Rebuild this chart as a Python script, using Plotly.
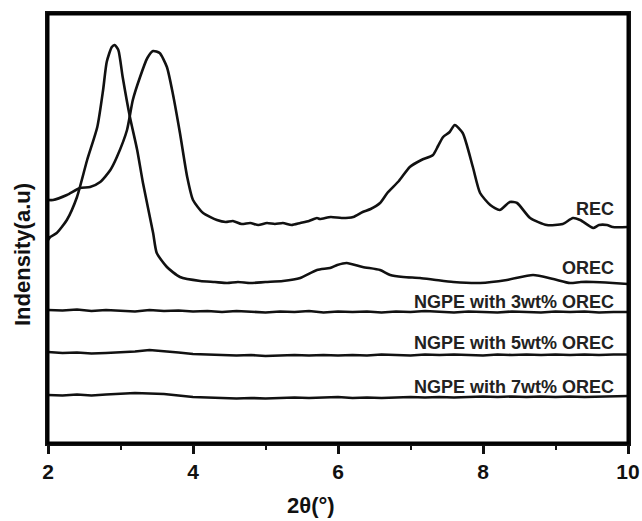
import plotly.graph_objects as go

# ---- data (2theta in degrees, intensity in arbitrary units, stacked offsets) ----
rec_x = [2.0, 2.07, 2.26, 2.44, 2.58, 2.72, 2.86, 2.95, 3.09, 3.17, 3.27, 3.37, 3.45, 3.54,
         3.64, 3.72, 3.82, 3.92, 4.0, 4.14, 4.33, 4.45, 4.55, 4.67, 4.79, 4.9, 5.02, 5.13,
         5.24, 5.36, 5.48, 5.6, 5.71, 5.75, 5.9, 6.05, 6.21, 6.34, 6.45, 6.58, 6.68, 6.84,
         6.99, 7.15, 7.31, 7.38, 7.45, 7.54, 7.61, 7.72, 7.86, 7.96, 8.1, 8.23, 8.37, 8.47,
         8.65, 8.88, 9.1, 9.24, 9.34, 9.52, 9.6, 9.71, 9.79, 10.0]
rec_y = [243, 243, 248, 255, 256, 261, 273, 286, 313, 343, 366, 385, 392, 390,
         376, 350, 310, 266, 243, 230, 223, 221, 222, 219, 220, 218, 220, 219,
         220, 218, 220, 222, 225, 224, 226, 225, 226, 231, 234, 240, 250, 262,
         276, 283, 288, 297, 306, 311, 318, 310, 276, 250, 238, 233, 241, 240,
         225, 218, 219, 225, 223, 215, 218, 218, 216, 216]

orec_x = [2.0, 2.03, 2.12, 2.26, 2.4, 2.54, 2.68, 2.76, 2.81, 2.88, 2.92, 2.97, 3.03, 3.13,
          3.23, 3.31, 3.45, 3.5, 3.64, 3.82, 4.1, 4.3, 4.47, 4.62, 4.79, 5.0, 5.24, 5.48,
          5.71, 5.89, 5.99, 6.12, 6.34, 6.58, 6.72, 6.9, 7.13, 7.35, 7.59, 7.96, 8.33,
          8.69, 8.97, 9.2, 9.35, 9.52, 9.79, 10.0]
orec_y = [203, 206, 210, 223, 246, 283, 316, 353, 381, 396, 398, 393, 366, 326,
          293, 260, 210, 190, 176, 166, 162, 161, 160, 161, 160, 161, 162, 165,
          173, 175, 178, 180, 176, 173, 168, 166, 165, 163, 161, 160, 163,
          168, 164, 160, 161, 161, 160, 159]

grid_x = [2.0, 2.2, 2.4, 2.6, 2.8, 3.0, 3.2, 3.4, 3.6, 3.8, 4.0, 4.2, 4.4, 4.6, 4.8,
          5.0, 5.2, 5.4, 5.6, 5.8, 6.0, 6.2, 6.4, 6.6, 6.8, 7.0, 7.2, 7.4, 7.6, 7.8,
          8.0, 8.2, 8.4, 8.6, 8.8, 9.0, 9.2, 9.4, 9.6, 9.8, 10.0]
ngpe3_y = [133, 132.5, 133.5, 132, 133, 132.5, 131.5, 133, 132, 132.5, 131.5, 132, 131,
           132, 131.5, 130.5, 131.5, 131, 132, 130.5, 131.5, 131, 131.5, 130.5, 131.5,
           131, 132, 131, 130.5, 131.5, 131, 130.5, 131.5, 131, 130.5, 131.5, 131,
           131.5, 130.5, 131, 131]
ngpe5_y = [91, 90, 90.5, 89.5, 90, 90.5, 91.5, 93, 92, 90.5, 89, 88.5, 88, 87.5, 88,
           87, 87.5, 88, 87.5, 88, 87.5, 88, 87.5, 88.5, 88, 87.5, 88.5, 88, 88.5, 88,
           87.5, 88.5, 88, 88.5, 88, 88.5, 88, 88.5, 88, 88.5, 88.5]
ngpe7_y = [48, 47.5, 48.5, 47.5, 48.5, 49, 50, 49.5, 49, 47.5, 46, 45.5, 45, 44.5, 45,
           44.5, 45, 45.5, 45, 45.5, 46, 45, 45.5, 45, 45.5, 46, 45.5, 46, 45.5, 46,
           46.5, 46, 46.5, 46, 46.5, 46, 46.5, 46, 46.5, 46.5, 47]

labels = ["REC", "OREC", "NGPE with 3wt% OREC", "NGPE with 5wt% OREC", "NGPE with 7wt% OREC"]
label_y = [234, 175, 141, 100, 56]
x_ticks = [2, 4, 6, 8, 10]

FONT = "Liberation Sans, Arial, Helvetica, sans-serif"
INK = "#111111"

fig = go.Figure()
series = [(rec_x, rec_y), (orec_x, orec_y), (grid_x, ngpe3_y), (grid_x, ngpe5_y), (grid_x, ngpe7_y)]
shapes_ = ["spline", "spline", "linear", "linear", "linear"]
for (xs, ys), name, shp in zip(series, labels, shapes_):
    fig.add_trace(go.Scatter(x=xs, y=ys, mode="lines", name=name,
                             line=dict(color=INK, width=2.6, shape=shp, smoothing=0.6),
                             showlegend=False))

for name, ly in zip(labels, label_y):
    fig.add_annotation(x=9.83, y=ly, xref="x", yref="y", text="<b>%s</b>" % name,
                       showarrow=False, xanchor="right", yanchor="middle",
                       font=dict(family=FONT, size=18, color="#222222"))

# axis titles placed as in the reference
fig.add_annotation(x=(311 - 48) / 580, y=-(505 - 443) / 429, xref="paper", yref="paper",
                   text="<b>2θ(°)</b>", showarrow=False, xanchor="center", yanchor="middle",
                   font=dict(family=FONT, size=22, color=INK))
fig.add_annotation(x=-(48 - 23) / 580, y=(443 - 255) / 429, xref="paper", yref="paper",
                   text="<b>Indensity(a.u)</b>", textangle=-90, showarrow=False,
                   xanchor="center", yanchor="middle",
                   font=dict(family=FONT, size=22, color=INK))

# frame
fig.add_shape(type="rect", xref="paper", yref="paper", x0=0, y0=0, x1=1, y1=1,
              line=dict(color="#000000", width=3), layer="above")

fig.update_layout(
    width=642, height=521,
    margin=dict(l=48, r=14, t=14, b=78, autoexpand=False),
    paper_bgcolor="white", plot_bgcolor="white",
    font=dict(family=FONT, color=INK),
    xaxis=dict(range=[2, 10], tickmode="array", tickvals=x_ticks,
               ticktext=["<b>%d</b>" % t for t in x_ticks],
               ticks="outside", ticklen=8, tickwidth=2.5, tickcolor=INK,
               tickfont=dict(family=FONT, size=21, color=INK),
               showline=True, linewidth=2.5, linecolor=INK, mirror=True,
               showgrid=False, zeroline=False, automargin=False,
               minor=dict(tickvals=[3, 5, 7, 9], ticks="outside", ticklen=4,
                          tickwidth=2, tickcolor=INK)),
    yaxis=dict(range=[0, 429], showticklabels=False, ticks="",
               showline=True, linewidth=2.5, linecolor=INK, mirror=True,
               showgrid=False, zeroline=False, automargin=False),
)

fig.write_html("out.html")
